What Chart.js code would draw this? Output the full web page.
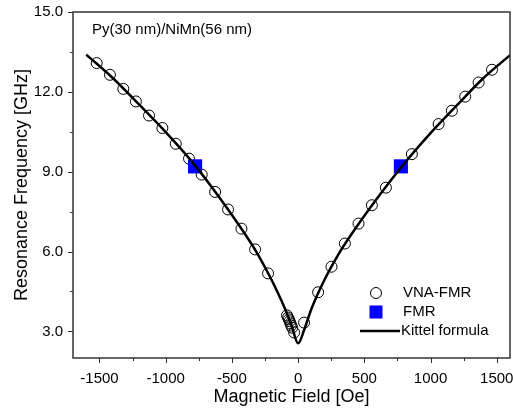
<!DOCTYPE html>
<html>
<head>
<meta charset="utf-8">
<script src="https://cdn.jsdelivr.net/npm/chart.js@4"></script>
<style>
  html, body { margin: 0; padding: 0; background: #fff; }
  #wrap { width: 513px; height: 412px; }
</style>
</head>
<body>
<div id="wrap"><canvas id="fmrChart" width="513" height="412"></canvas></div>
<script>
// VNA-FMR measurements [field Oe, frequency GHz]
var vnaField = [-1521, -1421, -1320, -1225, -1126, -1025, -924, -824, -728, -627, -529, -428, -325, -227,
                -84, -76, -70, -64, -58, -52, -45, -30, 45, 151, 252, 353, 456, 557, 663, 859,
                1061, 1161, 1262, 1363, 1464];
var vnaFreq  = [13.08, 12.64, 12.11, 11.64, 11.11, 10.64, 10.05, 9.49, 8.89, 8.24, 7.58, 6.86, 6.08, 5.18,
                3.60, 3.52, 3.45, 3.38, 3.30, 3.22, 3.14, 2.96, 3.33, 4.47, 5.43, 6.30, 7.05, 7.74, 8.40, 9.66,
                10.79, 11.29, 11.82, 12.35, 12.83];

// FMR points
var fmrField = [-778, 776];
var fmrFreq  = [9.20, 9.20];

// Kittel formula fit
var kittelField = [-1600, -1400, -1200, -1000, -800, -600, -400, -300, -200, -100, -50, 0,
                   50, 100, 200, 300, 400, 600, 800, 1000, 1200, 1400, 1600];
var kittelFreq  = [13.40, 12.52, 11.52, 10.49, 9.37, 8.07, 6.65, 5.86, 4.93, 3.86, 3.22, 2.55,
                   3.12, 3.84, 4.95, 5.86, 6.63, 8.02, 9.30, 10.45, 11.50, 12.52, 13.38];

var xMajor = [-1500, -1000, -500, 0, 500, 1000, 1500];
var xMinor = [-1250, -750, -250, 250, 750, 1250];
var yMajor = [3, 6, 9, 12, 15];
var yMinor = [4.5, 7.5, 10.5, 13.5];

var FONT = "'Liberation Sans', Arial, sans-serif";

var toPoints = function(xs, ys){
  return xs.map(function(x, i){ return {x: x, y: ys[i]}; });
};

var frame = {
  id: 'frame',
  afterDatasetsDraw: function(chart){
    var ctx = chart.ctx, a = chart.chartArea;
    var xs = chart.scales.x, ys = chart.scales.y;
    ctx.save();
    ctx.strokeStyle = '#333';
    ctx.lineWidth = 1.5;
    ctx.strokeRect(a.left, a.top, a.right - a.left, a.bottom - a.top);
    ctx.lineWidth = 1;
    ctx.beginPath();
    xMajor.forEach(function(v){ var p = Math.round(xs.getPixelForValue(v)) + 0.5; ctx.moveTo(p, a.bottom); ctx.lineTo(p, a.bottom + 5); });
    xMinor.forEach(function(v){ var p = Math.round(xs.getPixelForValue(v)) + 0.5; ctx.moveTo(p, a.bottom); ctx.lineTo(p, a.bottom + 3); });
    yMajor.forEach(function(v){ var p = Math.round(ys.getPixelForValue(v)) + 0.5; ctx.moveTo(a.left, p); ctx.lineTo(a.left - 5, p); });
    yMinor.forEach(function(v){ var p = Math.round(ys.getPixelForValue(v)) + 0.5; ctx.moveTo(a.left, p); ctx.lineTo(a.left - 3, p); });
    ctx.stroke();

    // sample label
    ctx.fillStyle = '#000';
    ctx.font = '15px ' + FONT;
    ctx.textBaseline = 'middle';
    ctx.textAlign = 'left';
    ctx.fillText('Py(30 nm)/NiMn(56 nm)', a.left + 19, a.top + 18);

    // legend inside the plot
    var lx = 376, ly = [293, 312, 331];
    ctx.lineWidth = 1;
    ctx.strokeStyle = '#000';
    ctx.beginPath();
    ctx.arc(lx, ly[0], 5.5, 0, Math.PI * 2);
    ctx.stroke();
    ctx.fillStyle = '#0000ff';
    ctx.fillRect(lx - 6.5, ly[1] - 6.5, 13, 13);
    ctx.lineWidth = 2.5;
    ctx.beginPath();
    ctx.moveTo(360, ly[2]);
    ctx.lineTo(400, ly[2]);
    ctx.stroke();
    ctx.fillStyle = '#000';
    ctx.fillText('VNA-FMR', 403, ly[0]);
    ctx.fillText('FMR', 403, ly[1]);
    ctx.fillText('Kittel formula', 401, ly[2]);
    ctx.restore();
  }
};

var fmrChart = new Chart(document.getElementById('fmrChart').getContext('2d'), {
  type: 'scatter',
  data: {
    datasets: [
      {
        label: 'Kittel formula',
        data: toPoints(kittelField, kittelFreq),
        showLine: true,
        borderColor: '#000',
        borderWidth: 2.5,
        pointRadius: 0,
        cubicInterpolationMode: 'monotone',
        order: 0
      },
      {
        label: 'FMR',
        data: toPoints(fmrField, fmrFreq),
        pointStyle: 'rect',
        pointRadius: 10,
        backgroundColor: '#0000ff',
        borderColor: '#0000ff',
        borderWidth: 0,
        order: 1
      },
      {
        label: 'VNA-FMR',
        data: toPoints(vnaField, vnaFreq),
        pointStyle: 'circle',
        pointRadius: 5.5,
        backgroundColor: 'rgba(0,0,0,0)',
        borderColor: '#000',
        borderWidth: 1,
        order: 2
      }
    ]
  },
  options: {
    responsive: false,
    animation: false,
    events: [],
    layout: {autoPadding: false, padding: {top: 12, right: 3, left: 0, bottom: 0}},
    plugins: {legend: {display: false}, tooltip: {enabled: false}},
    scales: {
      x: {
        type: 'linear',
        min: -1700,
        max: 1600,
        afterBuildTicks: function(scale){ scale.ticks = xMajor.map(function(v){ return {value: v}; }); },
        afterFit: function(scale){ scale.height = 54; scale.paddingLeft = 0; scale.paddingRight = 0; },
        grid: {display: false, drawTicks: false, tickLength: 0},
        border: {display: false},
        ticks: {color: '#000', padding: 12, maxRotation: 0, font: {family: FONT, size: 15},
                callback: function(v){ return String(v); }},
        title: {display: true, text: 'Magnetic Field [Oe]', color: '#000', padding: {top: 0, bottom: 4}, font: {family: FONT, size: 18}}
      },
      y: {
        type: 'linear',
        min: 2,
        max: 15,
        afterBuildTicks: function(scale){ scale.ticks = yMajor.map(function(v){ return {value: v}; }); },
        afterFit: function(scale){ scale.width = 73; scale.paddingTop = 0; scale.paddingBottom = 0; },
        grid: {display: false, drawTicks: false, tickLength: 0},
        border: {display: false},
        ticks: {color: '#000', padding: 10, font: {family: FONT, size: 15},
                callback: function(v){ return v.toFixed(1); }},
        title: {display: true, text: 'Resonance Frequency [GHz]', color: '#000', padding: {top: 11, bottom: 0}, font: {family: FONT, size: 18}}
      }
    }
  },
  plugins: [frame]
});
</script>
</body>
</html>
